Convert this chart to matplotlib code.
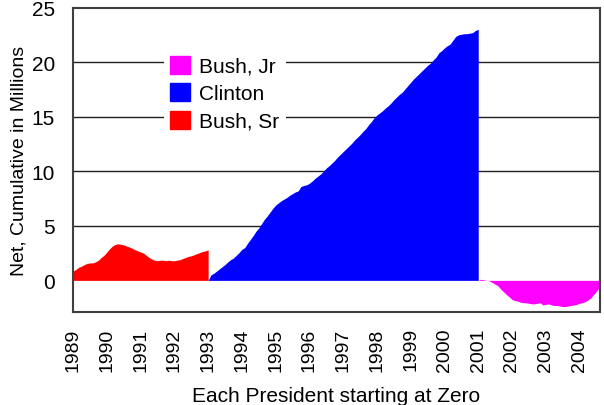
import numpy as np
import matplotlib
matplotlib.use('Agg')
import matplotlib.pyplot as plt
from matplotlib.patches import Patch

plt.rcParams['font.family'] = ['Liberation Sans', 'DejaVu Sans']

# net cumulative change (millions), monthly, each term starting from zero
bush_sr_start = 1989
bush_sr = [0.85, 1.0, 1.2, 1.3, 1.45, 1.55, 1.6, 1.6, 1.7, 1.85, 2.1, 2.3,
           2.6, 2.9, 3.15, 3.3, 3.35, 3.3, 3.25, 3.15, 3.05, 2.95, 2.8, 2.7,
           2.6, 2.5, 2.3, 2.1, 1.95, 1.85, 1.8, 1.85, 1.85, 1.8, 1.85, 1.8,
           1.8, 1.85, 1.9, 2.0, 2.1, 2.2, 2.25, 2.35, 2.45, 2.55, 2.65, 2.7, 2.8]

clinton_start = 1993
clinton = [0.0, 0.5, 0.65, 0.85, 1.05, 1.25, 1.45, 1.7, 1.9, 2.05, 2.3, 2.55,
           2.85, 3.0, 3.4, 3.75, 4.1, 4.5, 4.8, 5.2, 5.6, 5.9, 6.25, 6.6,
           6.9, 7.1, 7.3, 7.45, 7.6, 7.8, 7.95, 8.1, 8.2, 8.6, 8.7, 8.75,
           8.9, 9.1, 9.35, 9.55, 9.75, 10.0, 10.3, 10.5, 10.75, 11.0, 11.3, 11.55,
           11.8, 12.05, 12.3, 12.55, 12.85, 13.1, 13.35, 13.65, 13.9, 14.25, 14.55, 14.9,
           15.15, 15.35, 15.55, 15.8, 16.0, 16.25, 16.55, 16.8, 17.05, 17.25, 17.55, 17.85,
           18.15, 18.45, 18.7, 18.95, 19.2, 19.45, 19.7, 19.9, 20.2, 20.45, 20.85, 21.05,
           21.3, 21.5, 21.65, 22.0, 22.35, 22.5, 22.55, 22.6, 22.6, 22.65, 22.7, 22.9, 23.0]

bush_jr_start = 2001
bush_jr = [0.0, 0.1, 0.05, 0.0, -0.05, -0.2, -0.35, -0.5, -0.8, -1.05, -1.3, -1.5,
           -1.75, -1.85, -1.9, -2.0, -2.05, -2.05, -2.1, -2.15, -2.15, -2.1, -2.05, -2.25,
           -2.2, -2.15, -2.25, -2.3, -2.3, -2.35, -2.4, -2.4, -2.35, -2.3, -2.25, -2.2,
           -2.1, -2.05, -1.95, -1.8, -1.6, -1.3, -1.0, -0.65]

years = list(range(1989, 2005))

fig = plt.figure(figsize=(6.04, 4.06), dpi=100)
ax = fig.add_axes([0.121, 0.229, 0.872, 0.750])

series = [(bush_sr_start, bush_sr, '#ff0000'),
          (clinton_start, clinton, '#0000ff'),
          (bush_jr_start, bush_jr, '#ff00ff')]
for start, vals, col in series:
    x = start + np.arange(len(vals)) / 12.0
    ax.fill_between(x, 0, vals, color=col, lw=0, zorder=2)

ax.set_xlim(1989, 2004.6)
ax.set_ylim(-2.9, 25)
ax.set_yticks([0, 5, 10, 15, 20, 25])
ax.set_xticks(years)
ax.set_xticklabels([str(y) for y in years], rotation=90)
ax.tick_params(length=0)
ax.tick_params(axis='x', pad=11, labelsize=14)
ax.tick_params(axis='y', pad=13, labelsize=15)

for yv in [5, 10, 15, 20]:
    ax.axhline(yv, color='#202020', lw=1.0, zorder=1)

for s in ax.spines.values():
    s.set_color('#404040')
    s.set_linewidth(1.5)

ax.set_xlabel('Each President starting at Zero', fontsize=15, labelpad=11)
ax.set_ylabel('Net, Cumulative in Millions', fontsize=14, labelpad=3)

handles = [Patch(color='#ff00ff', label='Bush, Jr'),
           Patch(color='#0000ff', label='Clinton'),
           Patch(color='#ff0000', label='Bush, Sr')]
leg = ax.legend(handles=handles, loc='upper left', bbox_to_anchor=(0.152, 0.897),
                fontsize=15, frameon=True, framealpha=1, edgecolor='none',
                fancybox=False, handlelength=0.96, handleheight=0.96,
                handletextpad=0.45, labelspacing=0.35, borderpad=0.3)
leg.set_zorder(5)

fig.savefig('out.png', dpi=100)
